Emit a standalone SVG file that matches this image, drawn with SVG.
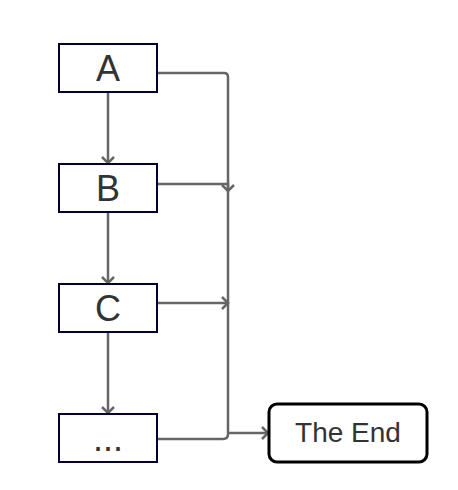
<svg xmlns="http://www.w3.org/2000/svg" width="458" height="490" viewBox="0 0 458 490">
<style>
.box{fill:#fff;stroke:#000033;stroke-width:2}
.end{fill:#fff;stroke:#000;stroke-width:3}
.lbl{font-family:"Liberation Sans",Arial,sans-serif;fill:#333;text-anchor:middle}
.big{font-size:36px}
.mid{font-size:28px}
.edge{fill:none;stroke:#666;stroke-width:2.5;marker-end:url(#arr)}
.edge2{fill:none;stroke:#666;stroke-width:2.5}
</style>
<defs>
<marker id="arr" markerUnits="userSpaceOnUse" viewBox="-8 -8 10 16" refX="0" refY="0" markerWidth="10" markerHeight="16" orient="auto">
<path d="M-6,-6 L0,0 L-6,6" fill="none" stroke="#666" stroke-width="2.5"/>
</marker>
</defs>
<rect width="458" height="490" fill="#fff"/>
<g id="connectors">
<path class="edge" d="M108,92 V163"/>
<path class="edge" d="M108,212 V283"/>
<path class="edge" d="M108,332 V413"/>
<path class="edge2" d="M157,73 H224 Q228,73 228,77 V433"/>
<path class="edge" d="M157,184 H228 V191"/>
<path class="edge" d="M157,303 H228"/>
<path class="edge" d="M157,439 H223 Q228,439 228,434 Q228,433 230,433 H268"/>
</g>
<g id="nodeA"><rect class="box" x="59" y="44" width="98" height="48"/><text class="lbl big" x="108" y="81">A</text></g>
<g id="nodeB"><rect class="box" x="59" y="164" width="98" height="48"/><text class="lbl big" x="108" y="201">B</text></g>
<g id="nodeC"><rect class="box" x="59" y="284" width="98" height="48"/><text class="lbl big" x="108" y="321">C</text></g>
<g id="nodeDots"><rect class="box" x="59" y="414" width="98" height="48"/><text class="lbl big" x="108" y="451">...</text></g>
<g id="nodeEnd"><rect class="end" x="269" y="404" width="158" height="58" rx="8" ry="8"/><text class="lbl mid" x="348" y="442">The End</text></g>
</svg>
